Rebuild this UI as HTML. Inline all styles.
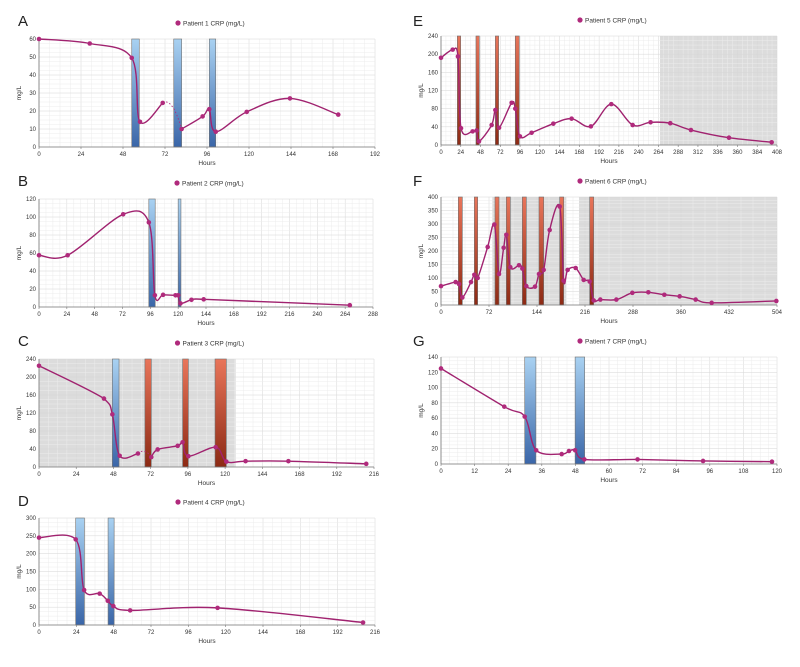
<!DOCTYPE html>
<html><head><meta charset="utf-8"><style>
html,body{margin:0;padding:0;background:#fff;}
svg{display:block;font-family:"Liberation Sans",sans-serif;}
</style></head><body>
<svg id="fig" width="800" height="667" viewBox="0 0 800 667">
<defs>
<linearGradient id="gBlue" x1="0" y1="0" x2="0" y2="1"><stop offset="0" stop-color="#a9d2f2"/><stop offset="1" stop-color="#3a66a8"/></linearGradient>
<linearGradient id="gRed" x1="0" y1="0" x2="0" y2="1"><stop offset="0" stop-color="#e9755a"/><stop offset="1" stop-color="#8c2a14"/></linearGradient>
</defs>
</svg>
<script>
// ---- Panel A data ----
const aX = [0,29,53,57.7,70.7,81.5,93.5,97.3,101,118.7,143.4,171];
const aY = [60,57.5,49.5,14,24.5,10,17,21,8.5,19.5,27,18];
const aBreaks = [5];
const aBands = [[53,57.3,'b'],[77,81.5,'b'],[97.3,101,'b']];
// ---- Panel B data ----
const bX = [0,24.7,72.6,94.7,99.9,107,117.7,120,122,131.5,142,268];
const bY = [57.5,57.5,103,94,13,13.5,13,13,4,8,8.5,2];
const bBands = [[94.7,100.2,'b'],[120,122.4,'b']];
// ---- Panel C data ----
const cX = [0,41.9,47.3,52,63.8,72.4,76.5,89.4,92.6,96.3,113.9,120.8,133.2,160.8,211];
const cY = [225,152,117,25,30,22,39,47,55,24,44,12,13,13,7];
const cBreaks = [5];
const cBands = [[47.3,51.6,'b'],[68.3,72.4,'r'],[92.6,96.3,'r'],[113.5,120.8,'r']];
const cGrey = [[0,126.8]];
// ---- Panel D data ----
const dX = [0,23.6,29,39,44.2,47.8,58.6,114.8,208.3];
const dY = [245,240,98,88,68,53,41,48,7];
const dBands = [[23.6,29.2,'b'],[44.4,48.3,'b']];
// ---- Panel E data ----
const eX = [0,14.2,20.6,24.3,38.4,43.3,46.1,61.5,66,70.5,85.8,90.2,95.9,110,136.4,158.6,182,206.8,232.7,254.5,278.4,303.5,349.7,401.5];
const eY = [192,210,195,37,30,32,8,44,77,38,93,80,19,27,47,58,41,90,44,50,48,33,16,6];
const eBands = [[19.8,23.9,'r'],[42.5,46.5,'r'],[66,70,'r'],[90.2,95,'r']];
const eGrey = [[265.9,408]];
// ---- Panel F data ----
const fX = [0,22,27,32,45,50,55,70,80,87,94,98,104,117,122,128,141,147,154,163,178,184,190,202,214,223,229,239,263,287,311,335,358,382,406,503];
const fY = [70,85,78,28,85,112,100,215,298,115,212,260,140,147,135,70,68,115,130,278,365,90,130,137,93,87,17,20,20,45,47,38,32,20,8,15];
const fBands = [[26,32,'r'],[50,55,'r'],[81,87,'r'],[98,104,'r'],[122,128,'r'],[147,154,'r'],[178,184,'r'],[223,229,'r']];
const fGrey = [[77,188],[207,504]];
// ---- Panel G data ----
const gX = [0,22.6,29.9,34,43.1,45.7,47.9,51.2,70.2,93.6,118.2];
const gY = [125,75,62,18,13,17,18,6,6,4,3];
const gBands = [[29.9,33.9,'b'],[47.9,51.3,'b']];

const panels = [
 {id:'a',letter:'A',lx:18,ly:26,L:39,R:375,T:39,B:147,xmax:192,xstep:24,ymax:60,ystep:10,xs:aX,ys:aY,breaks:aBreaks,bands:aBands,grey:[],pat:1},
 {id:'b',letter:'B',lx:18,ly:186,L:39,R:373,T:199,B:307,xmax:288,xstep:24,ymax:120,ystep:20,xs:bX,ys:bY,breaks:[],bands:bBands,grey:[],pat:2},
 {id:'c',letter:'C',lx:18,ly:346,L:39,R:374,T:359,B:467,xmax:216,xstep:24,ymax:240,ystep:40,xs:cX,ys:cY,breaks:cBreaks,bands:cBands,grey:cGrey,pat:3},
 {id:'d',letter:'D',lx:18,ly:506,L:39,R:375,T:518,B:625,xmax:216,xstep:24,ymax:300,ystep:50,xs:dX,ys:dY,breaks:[],bands:dBands,grey:[],pat:4},
 {id:'e',letter:'E',lx:413,ly:26,L:441,R:777,T:36,B:145,xmax:408,xstep:24,ymax:240,ystep:40,xs:eX,ys:eY,breaks:[],bands:eBands,grey:eGrey,pat:5},
 {id:'f',letter:'F',lx:413,ly:186,L:441,R:777,T:197,B:305,xmax:504,xstep:72,ymax:400,ystep:50,xs:fX,ys:fY,breaks:[],bands:fBands,grey:fGrey,pat:6},
 {id:'g',letter:'G',lx:413,ly:346,L:441,R:777,T:357,B:464,xmax:120,xstep:12,ymax:140,ystep:20,xs:gX,ys:gY,breaks:[],bands:gBands,grey:[],pat:7}
];
const NS='http://www.w3.org/2000/svg';
const svg=document.getElementById('fig');
function mk(tag,attrs,parent){const e=document.createElementNS(NS,tag);for(const k in attrs)e.setAttribute(k,attrs[k]);parent.appendChild(e);return e;}
function curve(pts){
 if(pts.length<2)return '';
 let d='M'+pts[0][0]+','+pts[0][1];
 for(let i=0;i<pts.length-1;i++){
  const p0=pts[i-1]||pts[i],p1=pts[i],p2=pts[i+1],p3=pts[i+2]||p2;
  let c1x=p1[0]+(p2[0]-p0[0])/6,c1y=p1[1]+(p2[1]-p0[1])/6;
  let c2x=p2[0]-(p3[0]-p1[0])/6,c2y=p2[1]-(p3[1]-p1[1])/6;
  c1x=Math.min(Math.max(c1x,p1[0]),p2[0]);c2x=Math.min(Math.max(c2x,p1[0]),p2[0]);
  d+=' C'+c1x+','+c1y+' '+c2x+','+c2y+' '+p2[0]+','+p2[1];
 }
 return d;
}
panels.forEach(p=>{
 const g=mk('g',{},svg);
 
 
 const sx=v=>p.L+v/p.xmax*(p.R-p.L);
 const sy=v=>p.B-v/p.ymax*(p.B-p.T);
 const lt=mk('text',{x:p.lx,y:p.ly,'font-size':15,fill:'#222'},g);lt.textContent=p.letter;
 
 
 // legend
 const cx=(p.L+p.R)/2;
 const lg=mk('g',{},g);
 
 
 mk('circle',{cx:cx-29,cy:p.T-16,r:2.6,fill:'#b02a7c'},lg);
 const ltx=mk('text',{x:cx-24,y:p.T-13.5,'font-size':6.5,fill:'#333'},lg);
 ltx.textContent='Patient '+p.pat+' CRP (mg/L)';
 // grey regions
 p.grey.forEach(r=>{const e=mk('rect',{x:sx(r[0]),y:p.T,width:sx(r[1])-sx(r[0]),height:p.B-p.T,fill:'#dcdcdc'},g);
  
  });
 // grid
 const nx=p.xmax/p.xstep, ny=p.ymax/p.ystep;
 for(let i=0;i<=nx*4;i++){const x=p.L+i/(nx*4)*(p.R-p.L);mk('line',{x1:x,x2:x,y1:p.T,y2:p.B,stroke:i%4?'#ececec':'#d6d6d6','stroke-width':0.5},g);}
 for(let i=0;i<=ny*4;i++){const y=p.B-i/(ny*4)*(p.B-p.T);mk('line',{x1:p.L,x2:p.R,y1:y,y2:y,stroke:i%4?'#ececec':'#d6d6d6','stroke-width':0.5},g);}
 // bands
 p.bands.forEach(b=>{const e=mk('rect',{x:sx(b[0]),y:p.T,width:Math.max(1.5,sx(b[1])-sx(b[0])),height:p.B-p.T,fill:b[2]=='b'?'url(#gBlue)':'url(#gRed)',stroke:'#707070','stroke-width':0.6},g);
  
  });
 // axes
 mk('line',{x1:p.L,x2:p.R,y1:p.B,y2:p.B,stroke:'#777','stroke-width':0.8},g);
 mk('line',{x1:p.L,x2:p.L,y1:p.T,y2:p.B,stroke:'#777','stroke-width':0.8},g);
 for(let i=0;i<=nx;i++){const v=i*p.xstep;const t=mk('text',{x:sx(v),y:p.B+9,'font-size':6,'text-anchor':'middle',fill:'#333'},g);t.textContent=v;
  
  
  mk('line',{x1:sx(v),x2:sx(v),y1:p.B,y2:p.B+2,stroke:'#777','stroke-width':0.6},g);}
 for(let i=0;i<=ny;i++){const v=i*p.ystep;const t=mk('text',{x:p.L-3,y:sy(v)+2,'font-size':6,'text-anchor':'end',fill:'#333'},g);t.textContent=v;
  
  }
 const xt=mk('text',{x:cx,y:p.B+18,'font-size':6.5,'text-anchor':'middle',fill:'#333'},g);xt.textContent='Hours';
 
 
 const yx=p.L-18,yy=(p.T+p.B)/2;
 const yt=mk('text',{x:yx,y:yy,'font-size':6.5,'text-anchor':'middle',fill:'#333',transform:'rotate(-90 '+yx+' '+yy+')'},g);yt.textContent='mg/L';
 
 
 // series
 const pts=p.xs.map((x,i)=>[sx(x),sy(p.ys[i])]);
 const segs=[];let s=0;
 p.breaks.concat([pts.length]).forEach(b=>{segs.push(pts.slice(s,b));s=b;});
 for(let i=0;i<segs.length-1;i++){const a=segs[i][segs[i].length-1],b=segs[i+1][0];
  const mx=(a[0]+b[0])/2,my=Math.min(a[1],b[1])-6;
  mk('path',{d:'M'+a[0]+','+a[1]+' Q'+mx+','+my+' '+b[0]+','+b[1],fill:'none',stroke:'#b02a7c','stroke-width':0.9,'stroke-dasharray':'1.5 2'},g);}
 segs.forEach(sg=>{const e=mk('path',{d:curve(sg),fill:'none',stroke:'#a0226f','stroke-width':1.4},g);
  
  });
 pts.forEach(q=>{const c=mk('circle',{cx:q[0],cy:q[1],r:2.3,fill:'#b02a7c'},g);
  
  });
});
</script>
</body></html>
